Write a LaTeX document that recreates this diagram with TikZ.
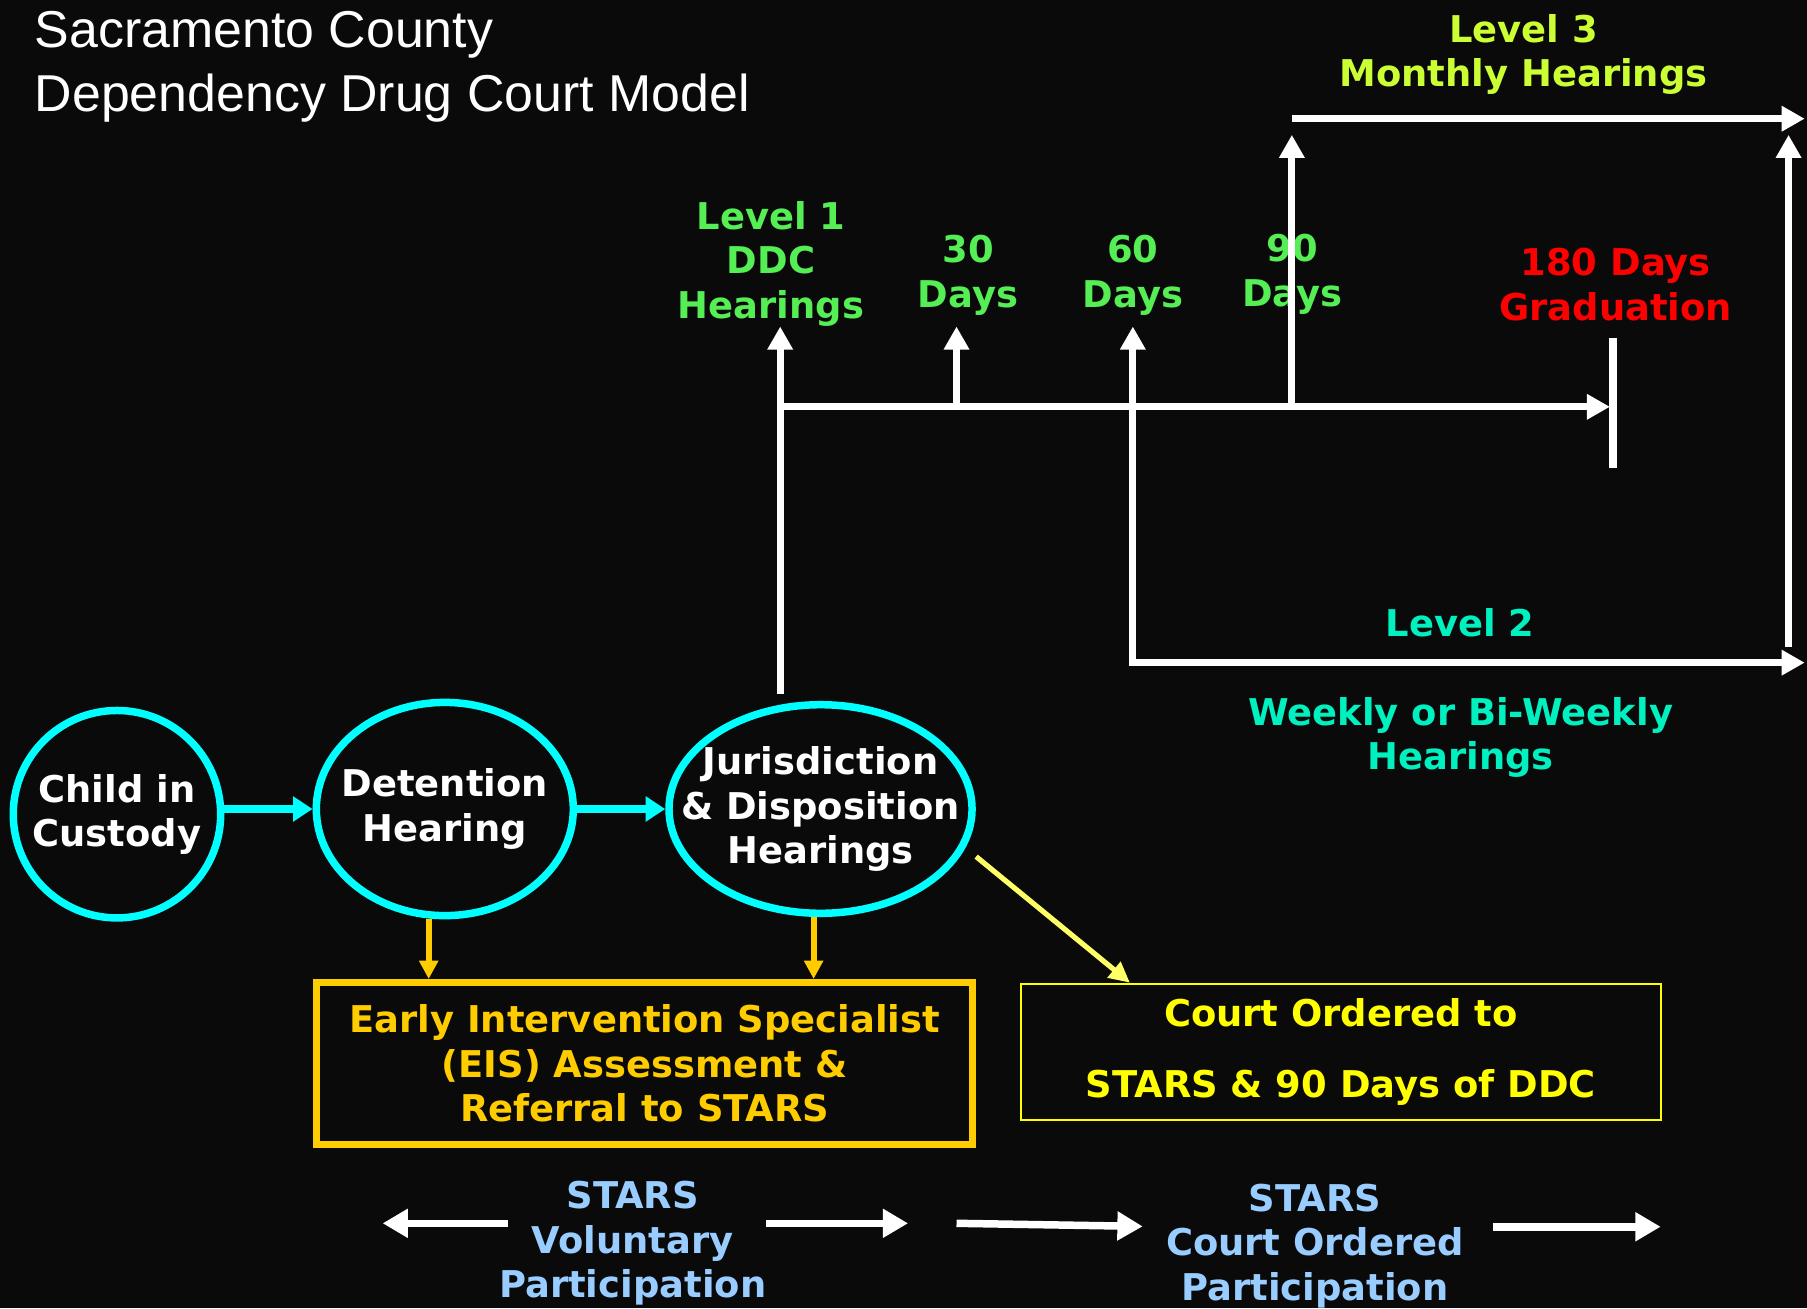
\documentclass[tikz,border=0pt]{standalone}
\usepackage{fontspec}
\setmainfont{DejaVu Sans}
\newfontfamily\headingfont{Liberation Sans}
\usetikzlibrary{positioning,arrows.meta,shapes.geometric,calc}

\definecolor{bgblack}{HTML}{0A0A0A}
\definecolor{stagecyan}{HTML}{00FFFF}
\definecolor{daygreen}{HTML}{55EE55}
\definecolor{levelthree}{HTML}{CCFF33}
\definecolor{leveltwo}{HTML}{00F0C0}
\definecolor{eisgold}{HTML}{FFCC00}
\definecolor{courtyellow}{HTML}{FFFF00}
\definecolor{diagyellow}{HTML}{FFFF66}
\definecolor{starsblue}{HTML}{99CCFF}

\begin{document}
\begin{tikzpicture}[
    x=1pt, y=-1pt,
    >={Triangle[length=20pt,width=21pt]},
    heading/.style={font=\headingfont\fontsize{45}{55}\selectfont, text=white, align=left, inner sep=0pt},
    txt/.style={font=\bfseries\fontsize{32}{38.5}\selectfont, align=center, inner sep=0pt},
    stage/.style={txt, draw=stagecyan, line width=6.5pt, ellipse, text=white,
      inner xsep=-40pt, inner ysep=0pt},
    timeline/.style={draw=white, line width=6pt},
    flow arrow/.style={draw=stagecyan, line width=7pt, -{Triangle[length=17pt,width=21pt]}},
    gold arrow/.style={draw=eisgold, line width=5pt, -{Triangle[length=16pt,width=16pt]}},
    diag arrow/.style={draw=diagyellow, line width=4.5pt, -{Triangle[length=18pt,width=17pt]}},
    stars arrow/.style={draw=white, line width=6.5pt, -{Triangle[length=22pt,width=24pt]}}
  ]

  % slide background
  \fill[bgblack] (0,0) rectangle (1568,1135);
  \useasboundingbox (0,0) rectangle (1568,1135);

  \node[heading, anchor=west] (head) at (30,58) {Sacramento County\\Dependency Drug Court Model};

  % stages of the case
  \node[stage, minimum width=180pt, minimum height=180pt] (child) at (101.5,706.5) {Child in\\Custody};
  \node[stage, minimum width=223pt, minimum height=185pt] (det) at (386,702) {Detention\\Hearing};
  \node[stage, minimum width=263pt, minimum height=181pt] (jur) at (712,702) {Jurisdiction\\\& Disposition\\Hearings};

  \draw[flow arrow] (child.east |- det.center) -- (det.west);
  \draw[flow arrow] (det.east) -- (jur.west);

  % boxes below
  \node[txt, draw=eisgold, line width=6pt, text=eisgold, minimum width=569pt, minimum height=140.5pt]
    (eis) at (559.5,922.75) {Early Intervention Specialist\\(EIS) Assessment \&\\Referral to STARS};
  \node[txt, draw=courtyellow, line width=2pt, text=courtyellow, minimum width=555pt, minimum height=118pt]
    (court) at (1163.5,912.75) {Court Ordered to\\[22.5pt]STARS \& 90 Days of DDC};

  \draw[gold arrow] ([xshift=-14pt]det.south) -- ([xshift=-14pt]det.south |- eis.north);
  \draw[gold arrow] ([xshift=-6pt]jur.south) -- ([xshift=-6pt]jur.south |- eis.north);
  \draw[diag arrow, shorten <=12pt] (jur.-15) -- ($(court.north west)+(95.5,0)$);

  % hearing levels
  \node[txt, text=daygreen] (lvl1) at (669,229) {Level 1\\DDC\\Hearings};
  \node[txt, text=daygreen] (d30) at (840,239) {30\\Days};
  \node[txt, text=daygreen] (d60) at (983,239) {60\\Days};
  \node[txt, text=daygreen] (d90) at (1121.5,238) {90\\Days};
  \node[txt, text=red] (grad) at (1402,247) {180 Days\\Graduation};
  \node[txt, text=levelthree] (lvl3) at (1322,47) {Level 3\\Monthly Hearings};
  \node[txt, text=leveltwo] (lvl2) at (1267,540) {Level 2};
  \node[txt, text=leveltwo] (weekly) at (1267.5,640) {Weekly or Bi-Weekly\\Hearings};

  % timeline
  \coordinate (jtop) at (677,602);
  \coordinate (t0) at (677,353);
  \coordinate (t30) at (830,353);
  \coordinate (c60) at (983,575);
  \coordinate (t90) at (1121,353);
  \coordinate (tickTop) at (1400,293);
  \coordinate (tickBot) at (1400,406);
  \coordinate (l2end) at (1566,575);
  \coordinate (l2up) at (1552,561);
  \coordinate (l3up) at (1552,117);
  \coordinate (l3start) at (1121,103);
  \coordinate (l3end) at (1566,103);

  \draw[timeline, ->] (jtop) -- (t0 |- lvl1.south);
  \draw[timeline, ->] (t0) -- ($(t0 -| tickTop)+(-3,0)$);
  \draw[timeline, line width=7pt] (tickTop) -- (tickBot);
  \draw[timeline, ->] (t30) -- (t30 |- lvl1.south);
  \draw[timeline, <->] (c60 |- lvl1.south) -- (c60) -- (l2end);
  \draw[timeline, ->] (l2up) -- (l3up);
  \draw[timeline, ->] (t90) -- (t90 |- l3up);
  \draw[timeline, ->] (l3start) -- (l3end);

  % STARS participation
  \node[txt, text=starsblue] (starsvol) at (549,1079) {STARS\\Voluntary\\Participation};
  \node[txt, text=starsblue] (starsord) at (1141,1081) {STARS\\Court Ordered\\Participation};

  \coordinate (volL) at (332,1061.5);
  \coordinate (volR) at (788,1061.5);
  \coordinate (ordIn) at (830,1061.5);
  \coordinate (ordR) at (1441,1064.5);

  \draw[stars arrow, shorten <=-8pt] (starsvol.west |- volL) -- (volL);
  \draw[stars arrow] (starsvol.east |- volR) -- (volR);
  \draw[stars arrow, shorten >=20pt] (ordIn) -- (starsord.west |- ordR);
  \draw[stars arrow, shorten <=25pt] (starsord.east |- ordR) -- (ordR);

\end{tikzpicture}
\end{document}
